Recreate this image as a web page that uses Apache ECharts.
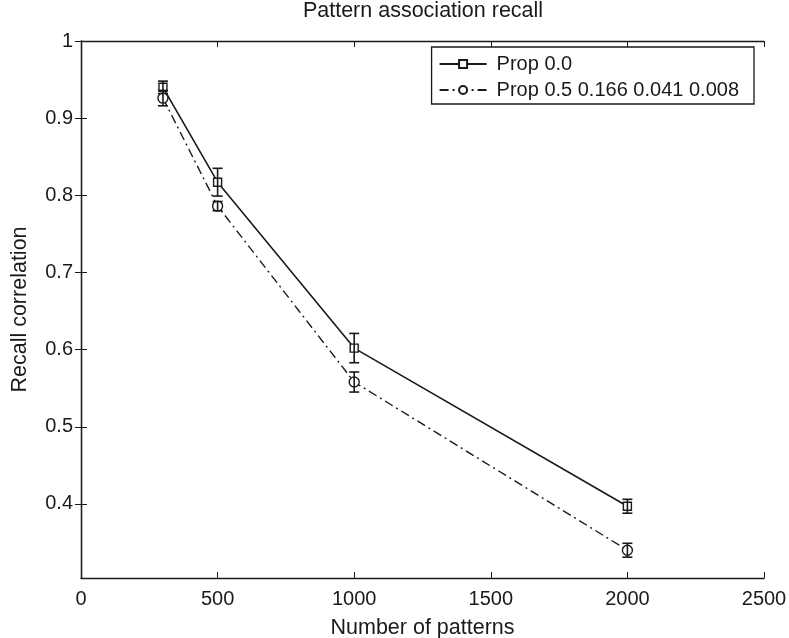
<!DOCTYPE html>
<html>
<head>
<meta charset="utf-8">
<script src="https://cdn.jsdelivr.net/npm/echarts@6/dist/echarts.min.js"></script>
<style>
  html, body { margin: 0; padding: 0; background: #fff; }
  #chart { width: 789px; height: 638px; }
</style>
</head>
<body>
<div id="chart"></div>
<script>
// data
var patterns = [300, 500, 1000, 2000];
var prop0 = [0.940, 0.817, 0.602, 0.397];
var prop0Err = [0.008, 0.018, 0.019, 0.009];
var propDecay = [0.926, 0.786, 0.558, 0.340];
var propDecayErr = [0.010, 0.006, 0.013, 0.009];
var xTicks = [0, 500, 1000, 1500, 2000, 2500];
var yTicks = [0.4, 0.5, 0.6, 0.7, 0.8, 0.9, 1];

var font = "Liberation Sans, Arial, Helvetica, sans-serif";
var ink = "#1a1a1a";

function pairs(xs, ys) {
    var out = [];
    for (var i = 0; i < xs.length; i++) {
        out.push([xs[i], ys[i]]);
    }
    return out;
}

function errRows(xs, ys, es) {
    var out = [];
    for (var i = 0; i < xs.length; i++) {
        out.push([xs[i], ys[i] - es[i], ys[i] + es[i]]);
    }
    return out;
}

// vertical error bar with caps
function errorBar(params, api) {
    var lo = api.coord([api.value(0), api.value(1)]);
    var hi = api.coord([api.value(0), api.value(2)]);
    var w = 5;
    var st = {stroke: ink, lineWidth: 1.6};
    return {
        type: "group",
        children: [
            {type: "line", shape: {x1: lo[0], y1: lo[1], x2: hi[0], y2: hi[1]}, style: st},
            {type: "line", shape: {x1: lo[0] - w, y1: lo[1], x2: lo[0] + w, y2: lo[1]}, style: st},
            {type: "line", shape: {x1: hi[0] - w, y1: hi[1], x2: hi[0] + w, y2: hi[1]}, style: st}
        ]
    };
}

function xAxisDef(pos, showLabel) {
    return {
        type: "value",
        position: pos,
        min: 0,
        max: 2500,
        interval: 500,
        name: showLabel ? "Number of patterns" : "",
        nameLocation: "middle",
        nameGap: 39,
        nameTextStyle: {color: ink, fontSize: 21.5, fontFamily: font},
        axisLine: {show: true, lineStyle: {color: ink, width: 1.3}},
        axisTick: {show: true, inside: true, length: 6, customValues: xTicks, lineStyle: {color: ink}},
        axisLabel: {show: showLabel, margin: 11, color: ink, fontSize: 20, fontFamily: font,
            customValues: xTicks,
            formatter: function (v) { return String(v); }},
        splitLine: {show: false}
    };
}

function yAxisDef(pos, showLabel) {
    return {
        type: "value",
        position: pos,
        min: 0.304,
        max: 1,
        name: showLabel ? "Recall correlation" : "",
        nameLocation: "middle",
        nameGap: 50,
        nameTextStyle: {color: ink, fontSize: 21.5, fontFamily: font},
        axisLine: {show: true, lineStyle: {color: ink, width: 1.3}},
        axisTick: {show: true, inside: true, length: 6, customValues: yTicks, lineStyle: {color: ink}},
        axisLabel: {show: showLabel, margin: 8, color: ink, fontSize: 20, fontFamily: font,
            customValues: yTicks,
            formatter: function (v) { return String(Math.round(v * 10) / 10); }},
        splitLine: {show: false}
    };
}

var myChart = echarts.init(document.getElementById("chart"));

var option = {
    backgroundColor: "#fff",
    animation: false,
    title: {
        text: "Pattern association recall",
        left: 423,
        textAlign: "center",
        top: 0,
        padding: 0,
        textStyle: {color: ink, fontSize: 21.5, fontWeight: "normal", fontFamily: font}
    },
    grid: {left: 81, right: 25, top: 41, bottom: 60, outerBoundsMode: "none"},
    legend: {
        orient: "vertical",
        right: 35,
        top: 47,
        padding: [7, 15, 4, 7],
        itemGap: 6,
        itemWidth: 47,
        itemHeight: 10,
        borderColor: ink,
        borderWidth: 1.3,
        backgroundColor: "#fff",
        textStyle: {color: ink, fontSize: 20, fontFamily: font, padding: [0, 0, 0, 5]},
        data: ["Prop 0.0", "Prop 0.5 0.166 0.041 0.008"]
    },
    xAxis: [xAxisDef("bottom", true), xAxisDef("top", false)],
    yAxis: [yAxisDef("left", true), yAxisDef("right", false)],
    series: [
        {
            name: "Prop 0.0",
            type: "line",
            data: pairs(patterns, prop0),
            symbol: "rect",
            symbolSize: 8,
            lineStyle: {color: ink, width: 1.6},
            itemStyle: {color: "#fff", borderColor: ink, borderWidth: 1.4},
            z: 3
        },
        {
            name: "Prop 0.5 0.166 0.041 0.008",
            type: "line",
            data: pairs(patterns, propDecay),
            symbol: "circle",
            symbolSize: 10,
            lineStyle: {color: ink, width: 1.4, type: [9, 4, 2, 4]},
            itemStyle: {color: "#fff", borderColor: ink, borderWidth: 1.4},
            z: 3
        },
        {
            type: "custom",
            renderItem: errorBar,
            data: errRows(patterns, prop0, prop0Err),
            z: 4
        },
        {
            type: "custom",
            renderItem: errorBar,
            data: errRows(patterns, propDecay, propDecayErr),
            z: 4
        }
    ]
};

myChart.setOption(option);
</script>
</body>
</html>
